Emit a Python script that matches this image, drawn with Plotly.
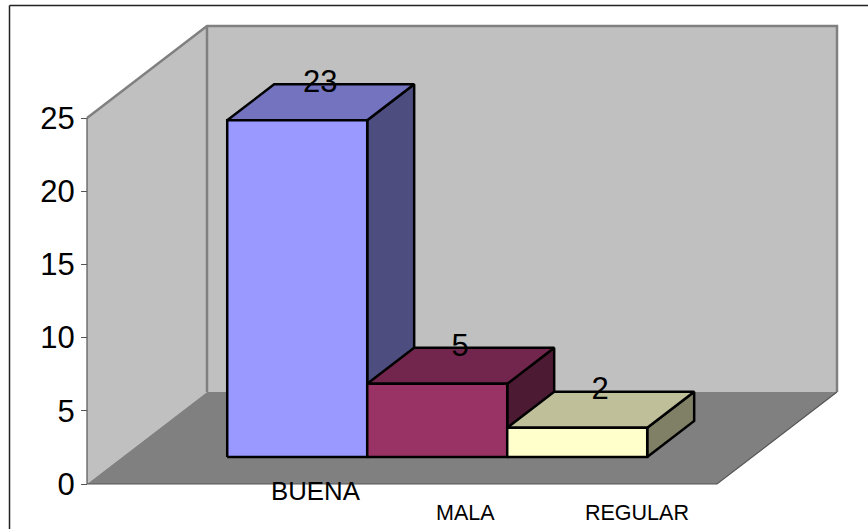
import plotly.graph_objects as go

categories = ["BUENA", "MALA", "REGULAR"]
values = [23, 5, 2]
y_ticks = [0, 5, 10, 15, 20, 25]
front_colors = ["#9999FF", "#993366", "#FFFFCC"]
top_colors = ["#7373BF", "#73264D", "#BFBF99"]
side_colors = ["#4D4D80", "#4D1A33", "#808066"]

W, H = 868, 529
X0_PX, Y0_PX = 87, 484      # front-left floor corner
PX_PER_X = 140.0            # one bar width
PX_PER_Y = 14.64            # one value unit
GAP = 0.75                  # space beside the group of bars, in bar widths
FLOOR_W = GAP * 2 + len(categories)
Y_MAX = 25
DX = 120 / PX_PER_X         # full floor depth, in axis units
DY = 92 / PX_PER_Y
BAR_D0, BAR_D1 = 27 / 92, 63 / 92
LINE = "#000000"
WALL_LINE = "#808080"
AXIS_LINE = "#555555"
FONT = "Liberation Sans, Arial, sans-serif"


def proj(x, v, d):
    return x + d * DX, v + d * DY


def poly(points, fill, line_color=None, width=0, closed=True):
    pts = [proj(*p) for p in points]
    if closed:
        pts.append(pts[0])
    return go.Scatter(
        x=[p[0] for p in pts], y=[p[1] for p in pts], mode="lines",
        fill="toself" if fill else "none", fillcolor=fill,
        line=dict(color=line_color or "rgba(0,0,0,0)", width=width),
        hoverinfo="skip", showlegend=False,
    )


fig = go.Figure()
# walls and floor
fig.add_trace(poly([(0, 0, 0), (0, Y_MAX, 0), (0, Y_MAX, 1), (0, 0, 1)], "#C0C0C0"))
fig.add_trace(poly([(0, 0, 1), (0, Y_MAX, 1), (FLOOR_W, Y_MAX, 1), (FLOOR_W, 0, 1)], "#C0C0C0"))
fig.add_trace(poly([(0, 0, 0), (0, 0, 1), (FLOOR_W, 0, 1), (FLOOR_W, 0, 0)], "#808080"))
fig.add_trace(poly([(0, Y_MAX, 0), (0, Y_MAX, 1), (FLOOR_W, Y_MAX, 1), (FLOOR_W, 0, 1)],
                   None, WALL_LINE, 2.5, closed=False))
fig.add_trace(poly([(0, 0, 1), (0, Y_MAX, 1)], None, WALL_LINE, 2.5, closed=False))
fig.add_trace(poly([(0, Y_MAX, 0), (0, 0, 0), (FLOOR_W, 0, 0), (FLOOR_W, 0, 1)],
                   None, AXIS_LINE, 1.2, closed=False))

# bars
for i, v in enumerate(values):
    a, b = GAP + i, GAP + i + 1
    fig.add_trace(poly([(b, 0, BAR_D0), (b, 0, BAR_D1), (b, v, BAR_D1), (b, v, BAR_D0)],
                       side_colors[i], LINE, 2.5))
    fig.add_trace(poly([(a, v, BAR_D0), (a, v, BAR_D1), (b, v, BAR_D1), (b, v, BAR_D0)],
                       top_colors[i], LINE, 2.5))
    fig.add_trace(poly([(a, 0, BAR_D0), (a, v, BAR_D0), (b, v, BAR_D0), (b, 0, BAR_D0)],
                       front_colors[i], LINE, 2.5))

# value labels: sit on the back edge of each bar's top
label_x = [GAP + i + 0.5 + (BAR_D0 + 23 / 120) * DX for i in range(len(values))]
label_y = [v + BAR_D1 * DY for v in values]
fig.add_trace(go.Scatter(
    x=label_x, y=label_y, mode="text", text=[str(v) for v in values],
    textposition="middle center", cliponaxis=False,
    textfont=dict(family=FONT, size=31, color="#000000"),
    hoverinfo="skip", showlegend=False,
))

# category labels (staggered in the source picture)
cat_px = [(316, 491, 25.8), (465.5, 513, 21.5), (637, 513, 21.5)]
annotations = [
    dict(text=c, xref="paper", yref="paper", x=p[0] / W, y=1 - p[1] / H,
         xanchor="center", yanchor="middle", showarrow=False,
         font=dict(family=FONT, size=p[2], color="#000000"))
    for c, p in zip(categories, cat_px)
]

fig.update_layout(
    width=W, height=H, margin=dict(l=0, r=0, t=0, b=0),
    paper_bgcolor="#FFFFFF", plot_bgcolor="#FFFFFF", showlegend=False,
    annotations=annotations,
    xaxis=dict(visible=False, range=[-X0_PX / PX_PER_X, (W - X0_PX) / PX_PER_X], fixedrange=True),
    yaxis=dict(
        range=[-(H - Y0_PX) / PX_PER_Y, Y0_PX / PX_PER_Y], fixedrange=True,
        anchor="free", position=X0_PX / W, side="left",
        tickmode="array", tickvals=y_ticks, ticktext=[str(t) for t in y_ticks],
        ticks="outside", ticklen=6, tickwidth=1.2, tickcolor=AXIS_LINE,
        showgrid=False, zeroline=False, showline=False,
        tickfont=dict(family=FONT, size=31, color="#000000"),
    ),
    shapes=[
        dict(type="line", xref="paper", yref="paper", x0=9.5 / W, x1=1, y0=1 - 5.5 / H, y1=1 - 5.5 / H,
             line=dict(color="#222222", width=1.5)),
        dict(type="line", xref="paper", yref="paper", x0=9.5 / W, x1=9.5 / W, y0=0, y1=1 - 5.5 / H,
             line=dict(color="#222222", width=1.5)),
    ],
)

fig.write_html("out.html", config={"displayModeBar": False},
               post_script="document.body.style.margin='0';document.body.style.overflow='hidden';")
